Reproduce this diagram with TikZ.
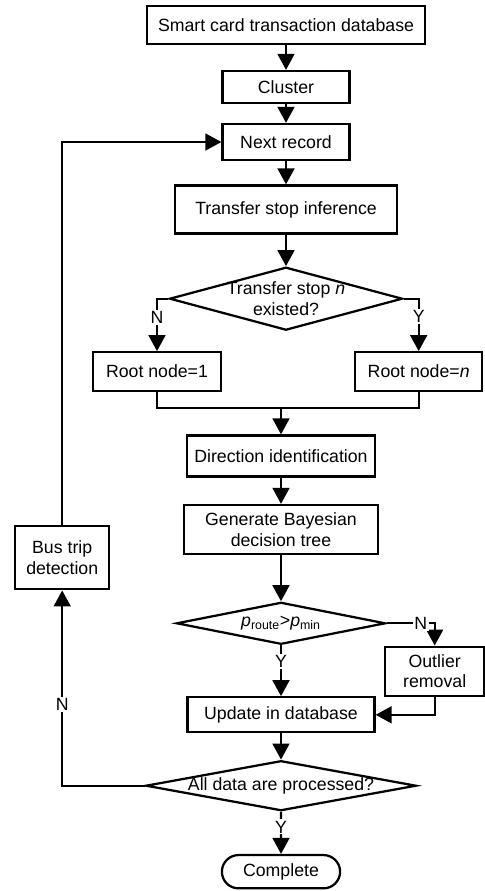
\documentclass[tikz,border=0pt]{standalone}
\usepackage{fontspec}
\setmainfont{Liberation Sans}
\usepackage{tikz}
\usetikzlibrary{arrows.meta,shapes.geometric,shapes.misc}

\tikzset{
  box/.style={draw, line width=1.6pt, inner sep=2pt, align=center},
  decision/.style={draw, diamond, line width=1.6pt, inner sep=0pt},
  ends/.style={draw, rounded rectangle, line width=1.6pt},
  flow/.style={line width=1.6pt, -{Triangle[width=0.42cm,length=0.4cm]}},
  yn/.style={fill=white, inner sep=1pt},
}

\begin{document}
\begin{tikzpicture}[font=\fontsize{12.6}{14.7}\selectfont]
\useasboundingbox (0,0) rectangle (12.125,-22.275);
% main column
\node[box, minimum width=6.95cm, minimum height=0.95cm] (db) at (7.15,-0.625) {Smart card transaction database};
\node[box, minimum width=3.175cm, minimum height=0.8cm] (cluster) at (7.15,-2.175) {Cluster};
\node[box, minimum width=3.175cm, minimum height=0.9cm] (next) at (7.15,-3.55) {Next record};
\node[box, minimum width=5.55cm, minimum height=1.2cm] (infer) at (7.15,-5.2375) {Transfer stop inference};
\node[decision, minimum width=5.825cm, minimum height=1.575cm] (exist) at (7.15,-7.4675) {};
\node[align=center] (existtxt) at (exist) {Transfer stop \textit{n}\\existed?};
\node[box, minimum width=3.2cm, minimum height=0.9625cm] (rootone) at (3.925,-9.2875) {Root node=1};
\node[box, minimum width=3.17cm, minimum height=0.9625cm] (rootn) at (10.4675,-9.2875) {Root node=\textit{n}};
\coordinate (merge) at (7.025,-10.2075);
\node[box, minimum width=4.7cm, minimum height=1.025cm] (dir) at (7.025,-11.4) {Direction identification};
\node[box, minimum width=4.865cm, minimum height=1.225cm] (tree) at (7.025,-13.2375) {Generate Bayesian\\decision tree};
\node[decision, minimum width=5.225cm, minimum height=1.05cm] (prob) at (7.025,-15.5825) {};
\node (probtxt) at (prob) {\textit{p}\textsubscript{route}>\textit{p}\textsubscript{min}};
\node[box, minimum width=2.4825cm, minimum height=1.2325cm] (outlier) at (10.8675,-16.7825) {Outlier\\removal};
\node[box, minimum width=4.675cm, minimum height=0.875cm] (update) at (7.025,-17.87) {Update in database};
\node[decision, minimum width=6.765cm, minimum height=1.25cm] (done) at (7.025,-19.6425) {};
\node (donetxt) at (done) {All data are processed?};
\node[ends, minimum width=3.19cm, minimum height=0.8325cm] (complete) at (7.025,-21.7925) {Complete};
% loop back
\node[box, minimum width=2.3575cm, minimum height=1.59cm] (bus) at (1.555,-13.9375) {Bus trip\\detection};

\draw[flow] (db) -- (cluster);
\draw[flow] (cluster) -- (next);
\draw[flow] (next) -- (infer);
\draw[flow] (infer) -- (exist);
\draw[flow] (exist.west) -| node[yn, pos=0.68] (nexist) {N} (rootone.north);
\draw[flow] (exist.east) -| node[yn, pos=0.67] (yexist) {Y} (rootn.north);
\draw[line width=1.6pt] (rootone.south) |- (merge) -| (rootn.south);
\draw[flow] (merge) -- (dir);
\draw[flow] (dir) -- (tree);
\draw[flow] (tree) -- (prob);
\draw[flow] (prob.east) -| node[yn, pos=0.355] (nprob) {N} (outlier.north);
\draw[flow] (prob) -- node[yn, pos=0.32] (yprob) {Y} (update);
\draw[flow] (outlier.south) |- (update.east);
\draw[flow] (update) -- (done);
\draw[flow] (done) -- node[yn, pos=0.36] (ydone) {Y} (complete);
\draw[flow] (done.west) -| node[yn, pos=0.707] (ndone) {N} (bus.south);
\draw[flow] (bus.north) |- (next.west);
\end{tikzpicture}
\end{document}
